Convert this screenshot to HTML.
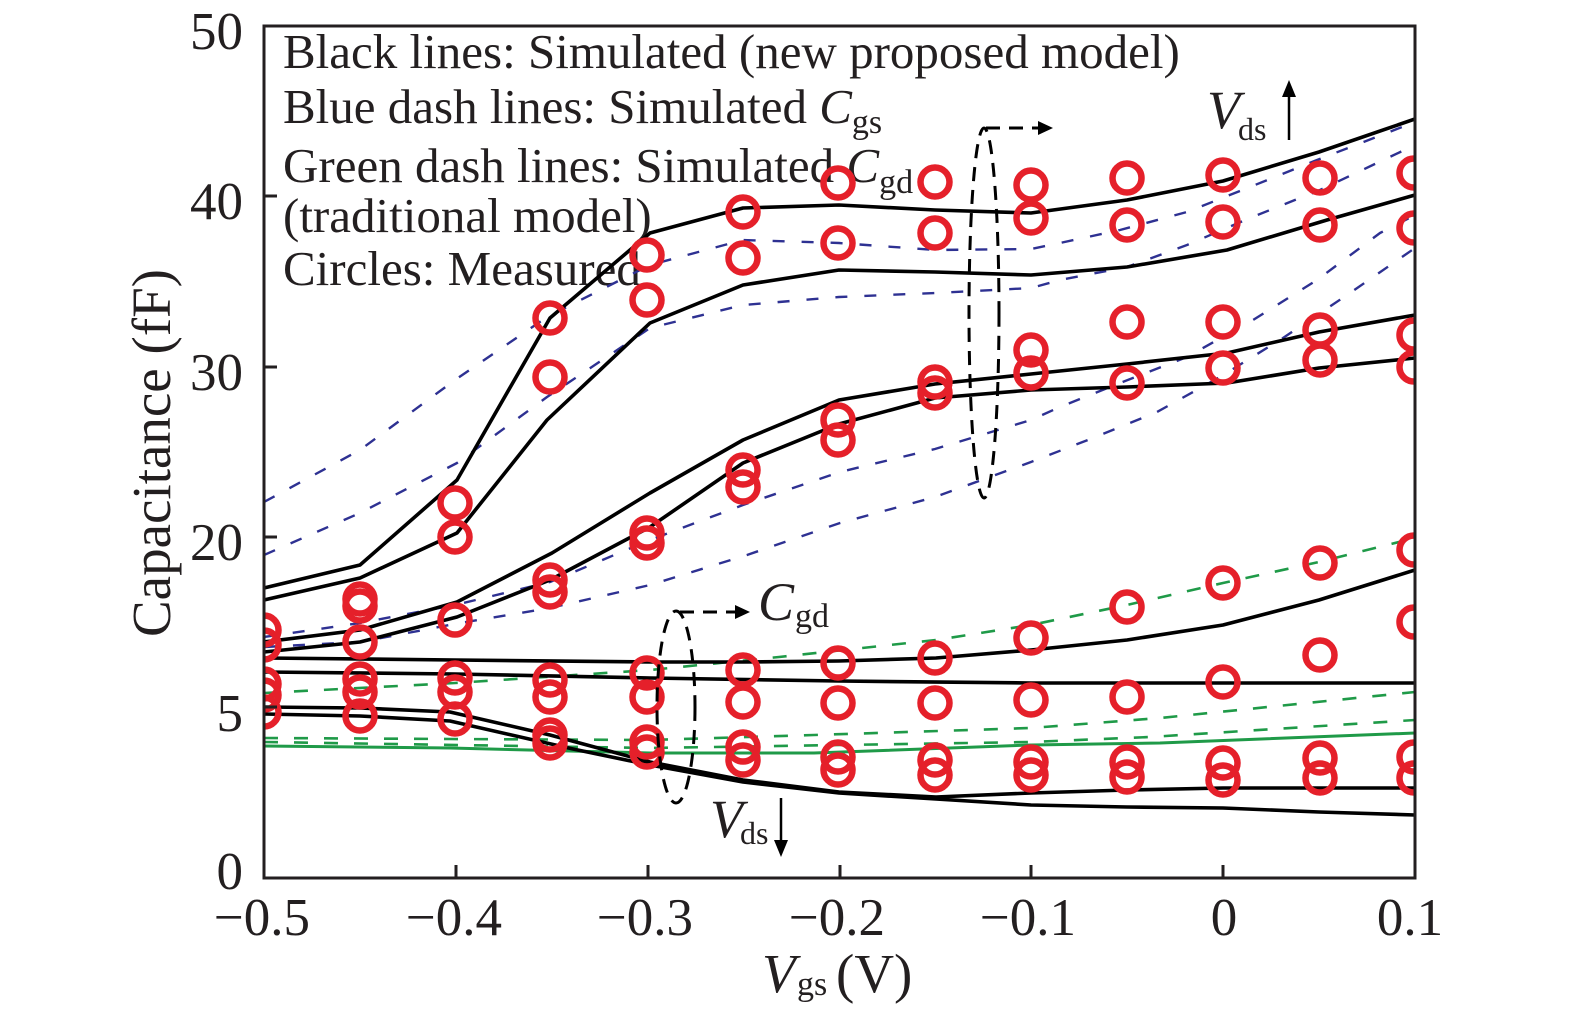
<!DOCTYPE html>
<html>
<head>
<meta charset="utf-8">
<style>
html,body{margin:0;padding:0;background:#fff;}
svg{display:block;}
text{font-family:"Liberation Serif","Times New Roman",serif;fill:#231f20;}
</style>
</head>
<body>
<svg width="1575" height="1022" viewBox="0 0 1575 1022" xmlns="http://www.w3.org/2000/svg">
<defs>
<clipPath id="pa"><rect x="264" y="26" width="1151" height="852"/></clipPath>
</defs>
<rect width="1575" height="1022" fill="#fff"/>

<!-- legend text -->
<g font-size="49">
<text x="283" y="68">Black lines: Simulated (new proposed model)</text>
<text x="283" y="123">Blue dash lines: Simulated <tspan font-style="italic">C</tspan><tspan font-size="34" dy="10">gs</tspan></text>
<text x="283" y="182">Green dash lines: Simulated <tspan font-style="italic">C</tspan><tspan font-size="34" dy="11">gd</tspan></text>
<text x="283" y="232">(traditional model)</text>
<text x="283" y="285">Circles: Measured</text>
</g>

<g clip-path="url(#pa)" fill="none" stroke-linejoin="round" stroke-linecap="butt">
<!-- blue dashed (traditional Cgs) -->
<g stroke="#2e3192" stroke-width="2.4" stroke-dasharray="12 17">
<polyline points="264,502 360,450 455,380 547,317 650,265 743,240 839,243 935,250 1031,249 1060,243 1120,230 1187,212 1250,187 1317,160 1415,122"/>
<polyline points="264,555 360,513 457,463 547,397 650,328 743,305 839,297 935,293 1031,288 1060,280 1127,267 1187,245 1250,218 1320,190 1415,145"/>
<polyline points="264,637 360,623 455,605 550,582 650,540 743,505 840,472 935,449 1031,420 1060,407 1120,383 1187,357 1253,320 1317,280 1380,233 1415,215"/>
<polyline points="264,647 360,642 460,623 550,608 650,585 747,555 840,523 935,497 1031,462 1093,438 1157,412 1220,377 1283,338 1350,293 1415,248"/>
</g>
<!-- green -->
<g stroke="#1f9a48" stroke-width="2.6" stroke-dasharray="14 16">
<polyline points="264,693 455,683 650,670 779,657 936,640 1031,625 1127,605 1223,583 1319,562 1415,538"/>
<polyline points="264,738 450,739 650,740 814,735 1031,728 1160,718 1415,692"/>
<polyline points="264,742 650,748 1031,742 1150,737 1415,720"/>
</g>
<polyline stroke="#1f9a48" stroke-width="3" points="264,746 450,748 650,753 814,753 1031,745 1160,743 1415,733"/>

<!-- black solid (new model) -->
<g stroke="#000" stroke-width="3.6">
<polyline points="264,588 360,565 457,480 550,318 650,233 743,208 839,205 935,210 1031,213 1127,200 1223,181 1319,152 1415,119"/>
<polyline points="264,600 360,578 457,533 547,420 650,323 743,285 839,270 935,272 1031,275 1127,267 1227,250 1327,220 1415,195"/>
<polyline points="264,642 360,630 457,602 552,553 650,493 743,440 839,400 935,384 1031,374 1127,364 1227,353 1319,332 1415,315"/>
<polyline points="264,652 360,642 457,617 550,580 650,527 743,463 839,424 935,398 1031,390 1127,387 1227,383 1319,368 1415,358"/>
<polyline points="264,658 455,660 650,662 743,662 839,661 936,658 1031,650 1127,640 1223,625 1319,600 1415,570"/>
<polyline points="264,672 455,674 650,678 839,681 1031,683 1223,683 1415,683"/>
<polyline points="264,707 360,708 450,712 550,735 650,762 743,780 839,792 936,797 1031,793 1127,790 1223,788 1319,788 1415,788"/>
<polyline points="264,714 360,716 450,721 573,749 650,765 743,782 839,793 936,799 1031,805 1127,807 1223,808 1319,812 1415,815"/>
</g>

<!-- measured circles -->
<g stroke="#e5202a" stroke-width="6.5" fill="none">
<circle cx="264" cy="630" r="14.5"/><circle cx="264" cy="645" r="14.5"/><circle cx="264" cy="684" r="14.5"/><circle cx="264" cy="695" r="14.5"/><circle cx="264" cy="712" r="14.5"/>
<circle cx="360" cy="599" r="14.5"/><circle cx="360" cy="606" r="14.5"/><circle cx="360" cy="642" r="14.5"/><circle cx="360" cy="679" r="14.5"/><circle cx="360" cy="692" r="14.5"/><circle cx="360" cy="716" r="14.5"/>
<circle cx="455" cy="503" r="14.5"/><circle cx="455" cy="537" r="14.5"/><circle cx="455" cy="620" r="14.5"/><circle cx="455" cy="678" r="14.5"/><circle cx="455" cy="692" r="14.5"/><circle cx="455" cy="719" r="14.5"/>
<circle cx="550" cy="318" r="14.5"/><circle cx="550" cy="377" r="14.5"/><circle cx="550" cy="580" r="14.5"/><circle cx="550" cy="592" r="14.5"/><circle cx="550" cy="680" r="14.5"/><circle cx="550" cy="697" r="14.5"/><circle cx="550" cy="735" r="14.5"/><circle cx="550" cy="743" r="14.5"/>
<circle cx="647" cy="255" r="14.5"/><circle cx="647" cy="300" r="14.5"/><circle cx="647" cy="533" r="14.5"/><circle cx="647" cy="543" r="14.5"/><circle cx="647" cy="673" r="14.5"/><circle cx="647" cy="697" r="14.5"/><circle cx="647" cy="742" r="14.5"/><circle cx="647" cy="752" r="14.5"/>
<circle cx="743" cy="212" r="14.5"/><circle cx="743" cy="258" r="14.5"/><circle cx="743" cy="470" r="14.5"/><circle cx="743" cy="487" r="14.5"/><circle cx="743" cy="670" r="14.5"/><circle cx="743" cy="702" r="14.5"/><circle cx="743" cy="747" r="14.5"/><circle cx="743" cy="760" r="14.5"/>
<circle cx="838" cy="183" r="14.5"/><circle cx="838" cy="243" r="14.5"/><circle cx="838" cy="420" r="14.5"/><circle cx="838" cy="440" r="14.5"/><circle cx="838" cy="663" r="14.5"/><circle cx="838" cy="703" r="14.5"/><circle cx="838" cy="757" r="14.5"/><circle cx="838" cy="770" r="14.5"/>
<circle cx="935" cy="182" r="14.5"/><circle cx="935" cy="233" r="14.5"/><circle cx="935" cy="382" r="14.5"/><circle cx="935" cy="393" r="14.5"/><circle cx="935" cy="658" r="14.5"/><circle cx="935" cy="703" r="14.5"/><circle cx="935" cy="760" r="14.5"/><circle cx="935" cy="775" r="14.5"/>
<circle cx="1031" cy="185" r="14.5"/><circle cx="1031" cy="218" r="14.5"/><circle cx="1031" cy="350" r="14.5"/><circle cx="1031" cy="373" r="14.5"/><circle cx="1031" cy="638" r="14.5"/><circle cx="1031" cy="700" r="14.5"/><circle cx="1031" cy="762" r="14.5"/><circle cx="1031" cy="775" r="14.5"/>
<circle cx="1127" cy="178" r="14.5"/><circle cx="1127" cy="225" r="14.5"/><circle cx="1127" cy="322" r="14.5"/><circle cx="1127" cy="383" r="14.5"/><circle cx="1127" cy="607" r="14.5"/><circle cx="1127" cy="697" r="14.5"/><circle cx="1127" cy="762" r="14.5"/><circle cx="1127" cy="777" r="14.5"/>
<circle cx="1223" cy="175" r="14.5"/><circle cx="1223" cy="222" r="14.5"/><circle cx="1223" cy="322" r="14.5"/><circle cx="1223" cy="368" r="14.5"/><circle cx="1223" cy="583" r="14.5"/><circle cx="1223" cy="682" r="14.5"/><circle cx="1223" cy="763" r="14.5"/><circle cx="1223" cy="780" r="14.5"/>
<circle cx="1320" cy="178" r="14.5"/><circle cx="1320" cy="225" r="14.5"/><circle cx="1320" cy="330" r="14.5"/><circle cx="1320" cy="360" r="14.5"/><circle cx="1320" cy="563" r="14.5"/><circle cx="1320" cy="655" r="14.5"/><circle cx="1320" cy="758" r="14.5"/><circle cx="1320" cy="778" r="14.5"/>
<circle cx="1414" cy="173" r="14.5"/><circle cx="1414" cy="228" r="14.5"/><circle cx="1414" cy="335" r="14.5"/><circle cx="1414" cy="367" r="14.5"/><circle cx="1414" cy="550" r="14.5"/><circle cx="1414" cy="622" r="14.5"/><circle cx="1414" cy="757" r="14.5"/><circle cx="1414" cy="778" r="14.5"/>
</g>
</g>

<!-- frame and ticks -->
<g stroke="#231f20" stroke-width="3" fill="none">
<rect x="264" y="26" width="1151" height="852"/>
<line x1="264" y1="196" x2="277" y2="196"/>
<line x1="264" y1="367" x2="277" y2="367"/>
<line x1="264" y1="537" x2="277" y2="537"/>
<line x1="264" y1="707" x2="277" y2="707"/>
<line x1="456" y1="878" x2="456" y2="865"/>
<line x1="648" y1="878" x2="648" y2="865"/>
<line x1="840" y1="878" x2="840" y2="865"/>
<line x1="1031" y1="878" x2="1031" y2="865"/>
<line x1="1223" y1="878" x2="1223" y2="865"/>
</g>

<!-- annotations -->
<g stroke="#000" stroke-width="3" fill="none" stroke-dasharray="14 9">
<ellipse cx="984" cy="313" rx="15" ry="185"/>
<line x1="986" y1="128" x2="1040" y2="128"/>
<ellipse cx="676" cy="707" rx="19" ry="96"/>
<line x1="680" y1="612" x2="737" y2="612"/>
</g>
<polygon points="1038,121 1038,135 1053,128" fill="#000"/>
<polygon points="735,605 735,619 750,612" fill="#000"/>

<text x="758" y="620" font-size="54" font-style="italic">C</text>
<text x="795" y="627" font-size="34">gd</text>

<text x="1207" y="128" font-size="54" font-style="italic">V</text>
<text x="1238" y="140" font-size="32">ds</text>
<line x1="1289" y1="140" x2="1289" y2="95" stroke="#000" stroke-width="2.5"/>
<polygon points="1282,97 1296,97 1289,80" fill="#000"/>

<text x="710" y="837" font-size="54" font-style="italic">V</text>
<text x="740" y="844" font-size="32">ds</text>
<line x1="781" y1="798" x2="781" y2="842" stroke="#000" stroke-width="2.5"/>
<polygon points="774,840 788,840 781,857" fill="#000"/>

<!-- tick labels -->
<g font-size="53" text-anchor="end">
<text x="243" y="49">50</text>
<text x="243" y="219">40</text>
<text x="243" y="390">30</text>
<text x="243" y="560">20</text>
<text x="243" y="731">5</text>
<text x="243" y="889">0</text>
</g>
<g font-size="53" text-anchor="middle">
<text x="262" y="935">−0.5</text>
<text x="454" y="935">−0.4</text>
<text x="645" y="935">−0.3</text>
<text x="837" y="935">−0.2</text>
<text x="1028" y="935">−0.1</text>
<text x="1224" y="935">0</text>
<text x="1410" y="935">0.1</text>
</g>

<!-- axis titles -->
<text transform="translate(170,453) rotate(-90)" font-size="55" text-anchor="middle">Capacitance (fF)</text>
<text x="762" y="992" font-size="55" font-style="italic">V</text>
<text x="797" y="995" font-size="34">gs</text>
<text x="836" y="992" font-size="55">(V)</text>
</svg>
</body>
</html>
